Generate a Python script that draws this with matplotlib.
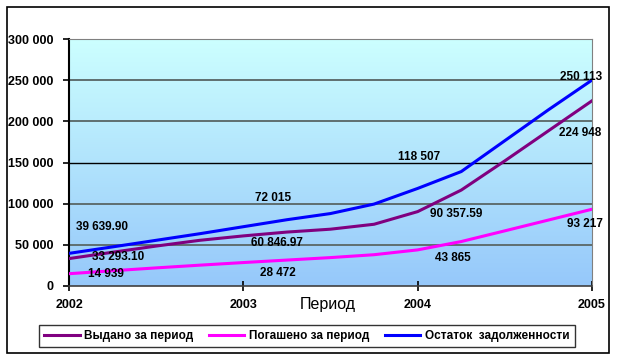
import matplotlib.pyplot as plt
import numpy as np

plt.rcParams['font.family'] = ['Liberation Sans', 'DejaVu Sans']

# quarterly points, labels only at the years
periods = [2002.0, 2002.25, 2002.5, 2002.75, 2003.0, 2003.25, 2003.5, 2003.75,
           2004.0, 2004.25, 2004.5, 2004.75, 2005.0]
vydano = [33293.10, 41000, 48500, 55500, 60846.97, 65500, 69000, 75000,
          90357.59, 116500, 152000, 188500, 224948]
pogasheno = [14939, 18500, 22000, 25300, 28472, 31500, 34500, 38000,
             43865, 54000, 67000, 80100, 93217]
ostatok = [39639.90, 47500, 55500, 63500, 72015, 80500, 88000, 99500,
           118507, 139000, 176500, 214000, 250113]

years = [2002, 2003, 2004, 2005]
vydano_lbl = ["33 293.10", "60 846.97", "90 357.59", "224 948"]
pogasheno_lbl = ["14 939", "28 472", "43 865", "93 217"]
ostatok_lbl = ["39 639.90", "72 015", "118 507", "250 113"]

yticks = [0, 50000, 100000, 150000, 200000, 250000, 300000]
ytick_lbl = ["0", "50 000", "100 000", "150 000", "200 000", "250 000", "300 000"]

W, H = 618, 362
fig = plt.figure(figsize=(W / 100, H / 100), dpi=100)
ax = fig.add_axes([69 / W, 1 - 286 / H, (592 - 69) / W, (286 - 39) / H])

# outer frame
fig.patches.append(plt.Rectangle((7 / W, 1 - 353 / H), 602 / W, 346 / H,
                                 transform=fig.transFigure, fill=False,
                                 edgecolor='black', lw=1.2))

# gradient background
grad = np.linspace(0, 1, 256).reshape(-1, 1)
top = np.array([204, 255, 255]) / 255
bot = np.array([150, 200, 250]) / 255
img = top + (bot - top) * grad[:, :, None]
ax.imshow(img, extent=[2002, 2005, 0, 300000], aspect='auto', origin='upper', zorder=0)

for v in yticks[1:]:
    if v == 150000:
        ax.axhline(v, color='black', lw=1.0, zorder=1)
    else:
        ax.axhline(v, color='#5f6f70', lw=1.4, zorder=1)

ax.plot(periods, vydano, color='#800080', lw=2.2, label='Выдано за период', zorder=3)
ax.plot(periods, pogasheno, color='#FF00FF', lw=2.2, label='Погашено за период', zorder=3)
ax.plot(periods, ostatok, color='#0000FF', lw=2.2, label='Остаток  задолженности', zorder=3)

# data labels (offsets in pixels)
offs = {
    'o': [(33, 26), (30, 29), (1, 31), (-11, 3)],
    'v': [(49, 2), (34, -7), (39, -2.5), (-12, -32)],
    'p': [(37, 0), (35, -10.5), (35, -8), (-7, -15)],
}
series = {'o': (ostatok, ostatok_lbl), 'v': (vydano, vydano_lbl), 'p': (pogasheno, pogasheno_lbl)}
for key, (vals, lbls) in series.items():
    for i, yr in enumerate(years):
        val = vals[periods.index(yr)]
        ax.annotate(lbls[i], xy=(yr, val), xytext=offs[key][i], textcoords='offset pixels',
                    ha='center', va='center', fontsize=8.5, fontweight='bold', zorder=4)

ax.set_xlim(2002, 2005)
ax.set_ylim(0, 300000)
ax.set_xticks(years)
ax.set_xticklabels([str(y) for y in years], fontsize=9, fontweight='bold')
ax.set_yticks(yticks)
ax.set_yticklabels(ytick_lbl, fontsize=9, fontweight='bold')
ax.tick_params(axis='x', direction='inout', length=7, width=1.2, pad=6)
ax.tick_params(axis='y', direction='out', length=4, width=1.2, pad=7)

ax.spines['left'].set_color('black')
ax.spines['left'].set_linewidth(1.5)
ax.spines['bottom'].set_color('#404040')
ax.spines['bottom'].set_linewidth(1.2)
ax.spines['top'].set_color('#808080')
ax.spines['right'].set_color('#808080')

fig.text(328 / W, 1 - 305 / H, 'Период', fontsize=11.5, ha='center', va='center')

leg = fig.legend(loc='center', bbox_to_anchor=(307 / W, 1 - 336 / H), ncol=3,
                 prop={'size': 8.5, 'weight': 'bold'}, frameon=True, fancybox=False,
                 handlelength=3.0, columnspacing=1.3, handletextpad=0.4,
                 borderpad=0.45)
leg.get_frame().set_edgecolor('black')
leg.get_frame().set_linewidth(1.0)

fig.savefig('out.png', dpi=100)
